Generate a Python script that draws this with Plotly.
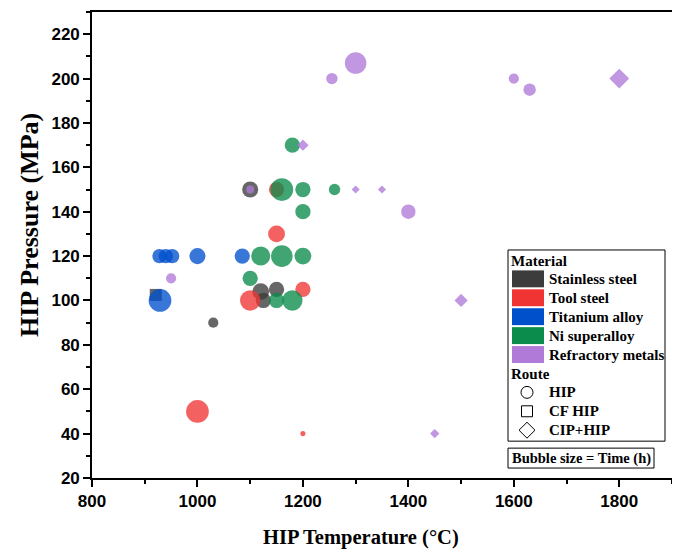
import math
import plotly.graph_objects as go

# ---------------- data ----------------
materials = ["Stainless steel", "Tool steel", "Titanium alloy", "Ni superalloy", "Refractory metals"]
material_colors = ["#3c3c3c", "#f03434", "#0050cc", "#0c8c4c", "#b07ad8"]
routes = ["HIP", "CF HIP", "CIP+HIP"]
route_symbols = ["circle", "square", "diamond"]

# Stainless steel
ss_temp = [1100, 1120, 1150, 1125, 1030, 921]
ss_press = [150, 104, 105, 100, 90, 102.5]
ss_time = [5, 5.5, 4.5, 4.5, 2, 2.8]
ss_route = ["HIP", "HIP", "HIP", "HIP", "HIP", "CF HIP"]

# Tool steel
ts_temp = [1150, 1150, 1100, 1200, 1000, 1200]
ts_press = [150, 130, 100, 105, 50, 40]
ts_time = [4.5, 5.5, 8, 4.5, 10, 0.5]
ts_route = ["HIP"] * 6

# Titanium alloy
ti_temp = [928, 940, 952, 1000, 1085, 929]
ti_press = [120, 120, 120, 120, 120, 100]
ti_time = [4, 4, 4, 5, 4.5, 10]
ti_route = ["HIP"] * 6

# Ni superalloy
ni_temp = [1180, 1160, 1200, 1260, 1200, 1120, 1160, 1200, 1100, 1150, 1180]
ni_press = [170, 150, 150, 150, 140, 120, 120, 120, 110, 100, 100]
ni_time = [4.5, 10, 4.5, 2.5, 4.5, 7, 9, 5.5, 4.5, 4.5, 8]
ni_route = ["HIP"] * 11

# Refractory metals
rm_temp = [1100, 950, 1400, 1255, 1300, 1600, 1630, 1200, 1300, 1350, 1800, 1500, 1450]
rm_press = [150, 110, 140, 200, 207, 200, 195, 170, 150, 150, 200, 100, 40]
rm_time = [1.2, 2, 4, 2.5, 9, 2, 3, 1.5, 0.75, 0.75, 4.5, 2, 1]
rm_route = ["HIP"] * 7 + ["CIP+HIP"] * 6

series = [
    (ss_temp, ss_press, ss_time, ss_route),
    (ts_temp, ts_press, ts_time, ts_route),
    (ti_temp, ti_press, ti_time, ti_route),
    (ni_temp, ni_press, ni_time, ni_route),
    (rm_temp, rm_press, rm_time, rm_route),
]

x_title = "HIP Temperature (°C)"
y_title = "HIP Pressure (MPa)"

SIZE_K = 7.2  # marker diameter (px) = SIZE_K * sqrt(time)

fig = go.Figure()
for mat, col, (T, P, H, R) in zip(materials, material_colors, series):
    for route, sym in zip(routes, route_symbols):
        idx = [i for i, r in enumerate(R) if r == route]
        if not idx:
            continue
        fig.add_trace(go.Scatter(
            x=[T[i] for i in idx],
            y=[P[i] for i in idx],
            mode="markers",
            name=f"{mat} ({route})",
            marker=dict(
                symbol=sym,
                color=col,
                opacity=0.78,
                size=[SIZE_K * math.sqrt(H[i]) for i in idx],
                line=dict(width=0),
            ),
            customdata=[H[i] for i in idx],
            hovertemplate="%{x} °C, %{y} MPa, %{customdata} h<extra>" + mat + "</extra>",
            showlegend=False,
        ))

# ---------------- layout ----------------
# page has an 8px body margin; figure sized so the plot lands where the reference has it
PAGE_OFF = 8
W, H_ = 680 - PAGE_OFF, 555 - PAGE_OFF
PL, PR, PT, PB = 92, 672, 10, 478          # plot-area edges in page pixels
ML, MT = PL - PAGE_OFF, PT - PAGE_OFF
MR = (PAGE_OFF + W) - PR
MB = (PAGE_OFF + H_) - PB
PW, PH = PR - PL, PB - PT

def px(x):
    return (x - PL) / PW

def py(y):
    return (PB - y) / PH

serif = "Liberation Serif, Times New Roman, serif"
sans = "Liberation Sans, Arial, sans-serif"

axis_common = dict(
    showgrid=False, zeroline=False,
    showline=True, linecolor="black", linewidth=1.6, mirror=True,
    ticks="outside", ticklen=7, tickwidth=1.5, tickcolor="black",
    tickfont=dict(family=sans, size=17, color="black", weight="bold"),
)

fig.update_layout(
    width=W, height=H_,
    margin=dict(l=ML, r=MR, t=MT, b=MB),
    plot_bgcolor="white", paper_bgcolor="white",
    showlegend=False,
    xaxis=dict(
        range=[800, 1900], tick0=800, dtick=200,
        minor=dict(dtick=100, ticks="outside", ticklen=4, tickwidth=1.5, tickcolor="black"),
        **axis_common,
    ),
    yaxis=dict(
        range=[20, 230], tick0=20, dtick=20,
        minor=dict(dtick=10, ticks="outside", ticklen=4, tickwidth=1.5, tickcolor="black"),
        **axis_common,
    ),
)

shapes = []
annotations = []
annotations.append(dict(xref="paper", yref="paper", x=px(361), y=py(538), text=x_title,
                        showarrow=False, xanchor="center", yanchor="middle",
                        font=dict(family=serif, size=20.5, color="black", weight="bold")))
annotations.append(dict(xref="paper", yref="paper", x=px(29), y=py(224), text=y_title,
                        showarrow=False, xanchor="center", yanchor="middle", textangle=-90,
                        font=dict(family=serif, size=26, color="black", weight="bold")))

# ---------------- legend (drawn in paper coordinates) ----------------
lfont = dict(family=serif, size=15, color="black", weight="bold")

shapes.append(dict(type="rect", xref="paper", yref="paper",
                   x0=px(508), x1=px(665), y0=py(441), y1=py(249),
                   line=dict(color="black", width=1), fillcolor="white", layer="above"))

annotations.append(dict(xref="paper", yref="paper", x=px(509), y=py(260), text="Material",
                        showarrow=False, xanchor="left", yanchor="middle", font=lfont))
row_y = [278, 297, 316, 335, 354]
for mat, col, yy in zip(materials, material_colors, row_y):
    shapes.append(dict(type="rect", xref="paper", yref="paper",
                       x0=px(512), x1=px(544), y0=py(yy + 8.5), y1=py(yy - 8.5),
                       line=dict(width=0), fillcolor=col, layer="above"))
    annotations.append(dict(xref="paper", yref="paper", x=px(547), y=py(yy), text=mat,
                            showarrow=False, xanchor="left", yanchor="middle", font=lfont))

annotations.append(dict(xref="paper", yref="paper", x=px(509), y=py(374), text="Route",
                        showarrow=False, xanchor="left", yanchor="middle", font=lfont))
route_y = [392, 411, 430]
cx = 527
shapes.append(dict(type="circle", xref="paper", yref="paper",
                   x0=px(cx - 6), x1=px(cx + 6), y0=py(route_y[0] + 6), y1=py(route_y[0] - 6),
                   line=dict(color="black", width=1), layer="above"))
shapes.append(dict(type="rect", xref="paper", yref="paper",
                   x0=px(cx - 5.5), x1=px(cx + 5.5), y0=py(route_y[1] + 5.5), y1=py(route_y[1] - 5.5),
                   line=dict(color="black", width=1), layer="above"))
d = 8
path = (f"M {px(cx)},{py(route_y[2] - d)} L {px(cx + d)},{py(route_y[2])} "
        f"L {px(cx)},{py(route_y[2] + d)} L {px(cx - d)},{py(route_y[2])} Z")
shapes.append(dict(type="path", xref="paper", yref="paper", path=path,
                   line=dict(color="black", width=1), layer="above"))
for route, yy in zip(routes, route_y):
    annotations.append(dict(xref="paper", yref="paper", x=px(547), y=py(yy), text=route,
                            showarrow=False, xanchor="left", yanchor="middle", font=lfont))

shapes.append(dict(type="rect", xref="paper", yref="paper",
                   x0=px(508), x1=px(654), y0=py(468), y1=py(448),
                   line=dict(color="black", width=1), fillcolor="white", layer="above"))
annotations.append(dict(xref="paper", yref="paper", x=px(581), y=py(458), text="Bubble size = Time (h)",
                        showarrow=False, xanchor="center", yanchor="middle",
                        font=dict(family=serif, size=14.5, color="black", weight="bold")))

fig.update_layout(shapes=shapes, annotations=annotations)

fig.write_html("out.html")
